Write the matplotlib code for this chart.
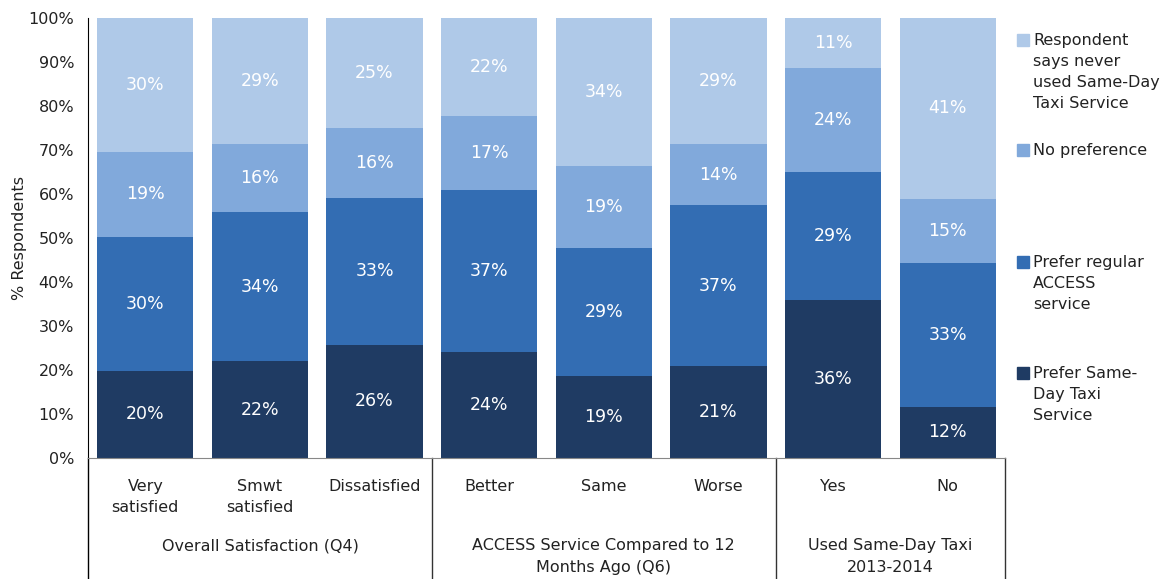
# coding:utf-8
# stacked bars: preference for same-day taxi vs regular ACCESS service
import numpy as np
import matplotlib
matplotlib.use('Agg')
import matplotlib.pyplot as plt
from matplotlib.patches import Rectangle

plt.rcParams['font.family'] = ['DejaVu Sans']

categories = ["Very\nsatisfied", "Smwt\nsatisfied", "Dissatisfied",
              "Better", "Same", "Worse", "Yes", "No"]
groups = ["Overall Satisfaction (Q4)",
          "ACCESS Service Compared to 12\nMonths Ago (Q6)",
          "Used Same-Day Taxi\n2013-2014"]
group_sizes = [3, 3, 2]

# percent of respondents, bottom to top
prefer_taxi    = [19.8, 22.0, 25.7, 24.1, 18.6, 20.8, 36.0, 11.6]
prefer_regular = [30.4, 33.8, 33.4, 36.8, 29.1, 36.6, 29.0, 32.7]
no_pref        = [19.4, 15.6, 15.9, 16.8, 18.7, 14.0, 23.6, 14.6]
never_used     = [30.4, 28.6, 25.0, 22.3, 33.6, 28.6, 11.4, 41.1]

series = [prefer_taxi, prefer_regular, no_pref, never_used]
names = ["Prefer Same-\nDay Taxi\nService",
         "Prefer regular\nACCESS\nservice",
         "No preference",
         "Respondent\nsays never\nused Same-Day\nTaxi Service"]
colors = ["#1f3b63", "#336db3", "#81a9db", "#afc9e8"]

fig = plt.figure(figsize=(11.7, 5.79), dpi=100)
ax = fig.add_axes([88/1170, 121/579, 917/1170, 440/579])

x = np.arange(len(categories))
bottom = np.zeros(len(categories))
for vals, c in zip(series, colors):
    vals = np.array(vals)
    ax.bar(x, vals, 0.84, bottom=bottom, color=c, linewidth=0)
    for xi, b, v in zip(x, bottom, vals):
        ax.text(xi, b + v/2, "%d%%" % round(v), ha='center', va='center',
                color='white', fontsize=12.5)
    bottom += vals

ax.set_xlim(-0.5, 7.5)
ax.set_ylim(0, 100)
ax.set_yticks(np.arange(0, 101, 10))
ax.set_yticklabels(["%d%%" % t for t in range(0, 101, 10)])
ax.tick_params(axis='y', length=0, pad=10, labelsize=11.5, labelcolor='#222222')
ax.set_xticks(x)
ax.set_xticklabels(categories, linespacing=1.55)
ax.tick_params(axis='x', length=0, pad=15, labelsize=11.5, labelcolor='#222222')
ax.set_ylabel("% Respondents", fontsize=11.5, color='#222222')
ax.yaxis.set_label_coords(-0.066, 0.5)

ax.spines['top'].set_visible(False)
ax.spines['right'].set_visible(False)
ax.spines['left'].set_color('black')
ax.spines['bottom'].set_color('#888888')

# group box lines under the axis
trans = ax.get_xaxis_transform()
edges = np.concatenate([[0], np.cumsum(group_sizes)]) - 0.5
for i, e in enumerate(edges):
    ax.plot([e, e], [0, -0.29], transform=trans, clip_on=False,
            color='black' if i == 0 else '#333333', linewidth=1)
for g, lo, hi in zip(groups, edges[:-1], edges[1:]):
    ax.text((lo + hi) / 2, -0.182, g, transform=trans, ha='center', va='top',
            fontsize=11.5, color='#222222', linespacing=1.55)

# legend drawn by hand, top entry first
legend_y = [40, 150, 262, 373]
for name, c, ly in zip(names[::-1], colors[::-1], legend_y):
    fig.patches.append(Rectangle(((1017)/1170, 1 - (ly + 6)/579), 12/1170, 12/579,
                                 transform=fig.transFigure, color=c, figure=fig))
    fig.text(1033/1170, 1 - (ly - 7)/579, name, ha='left', va='top',
             fontsize=11.5, color='#222222', linespacing=1.5)

fig.savefig("out.png", dpi=100)
